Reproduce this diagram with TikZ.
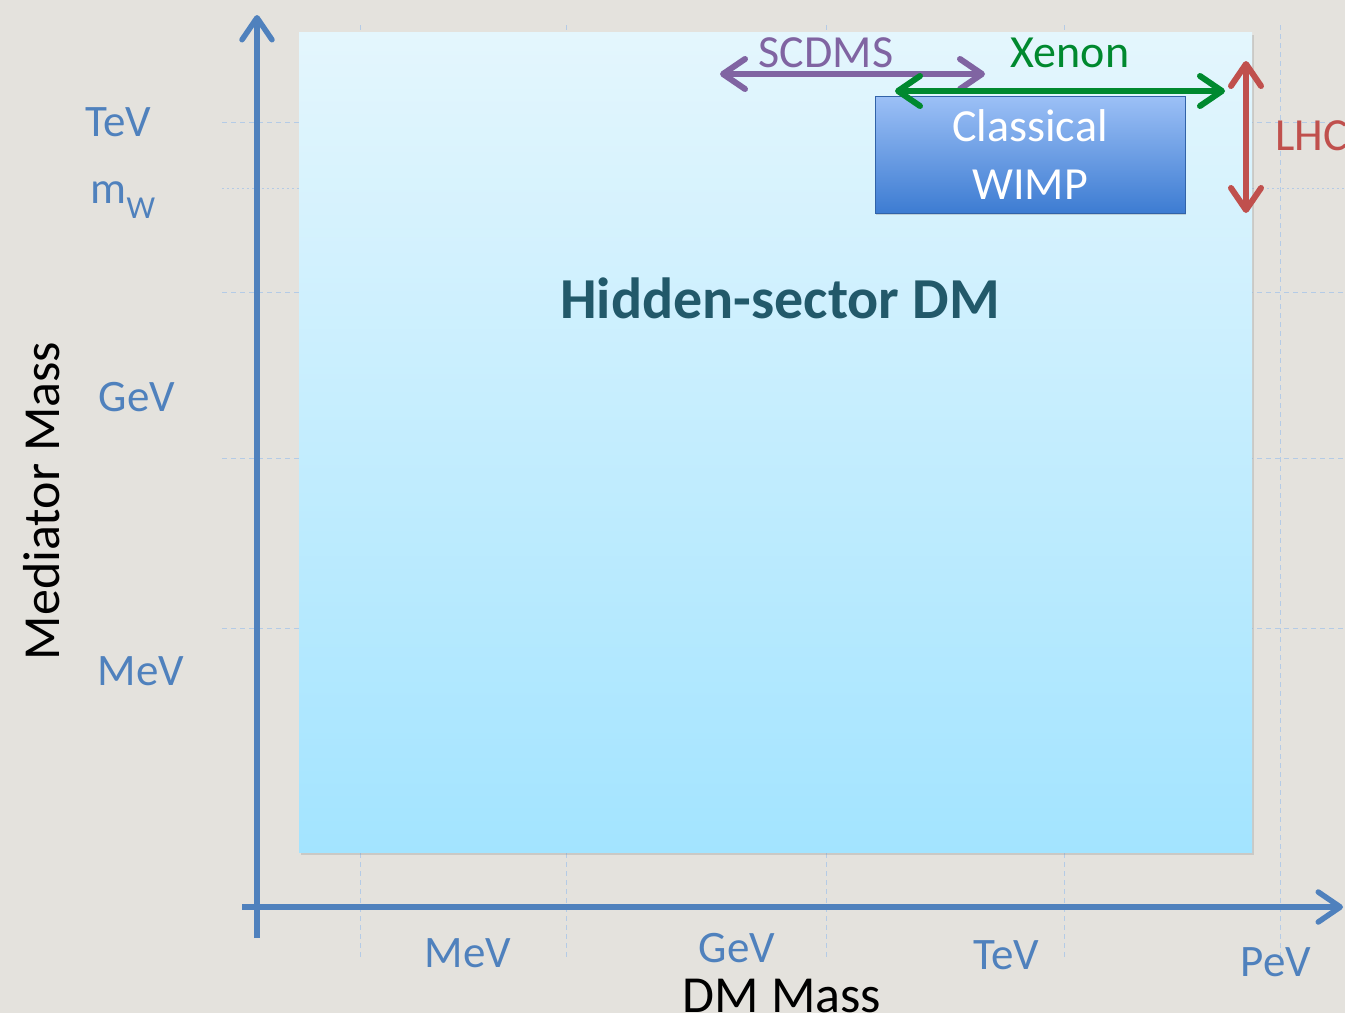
\documentclass[tikz,border=0pt]{standalone}
\usepackage{fontspec}
\setmainfont{Carlito}
\usetikzlibrary{arrows.meta,shadows}
\definecolor{paper}{HTML}{E4E2DD}
\definecolor{axisblue}{HTML}{4F81BD}
\definecolor{gridblue}{HTML}{B4CBE6}
\definecolor{sectortop}{HTML}{E4F6FD}
\definecolor{sectorbottom}{HTML}{A3E4FF}
\definecolor{wimptop}{HTML}{9CC0F6}
\definecolor{wimpbottom}{HTML}{3D7CD2}
\definecolor{headteal}{HTML}{22596A}
\definecolor{scdmspurple}{HTML}{8064A2}
\definecolor{xenongreen}{HTML}{00892F}
\definecolor{lhcred}{HTML}{C0504D}
\tikzset{
  barb/.tip={Straight Barb[length=22pt,width=30pt,line cap=round,line join=round]},
  grid line/.style={draw=gridblue,line width=1pt,dash pattern=on 5pt off 4pt},
  axis/.style={draw=axisblue,line width=5.5pt,-barb},
  rangearrow/.style={line width=6pt,barb-barb},
  tick label/.style={text=axisblue,font=\fontsize{45}{50}\selectfont,inner sep=0pt},
  axis title/.style={font=\fontsize{52}{58}\selectfont,inner sep=0pt},
  exp label/.style={font=\fontsize{46}{52}\selectfont,inner sep=0pt},
  sector/.style={top color=sectortop,bottom color=sectorbottom,minimum width=953pt,minimum height=820pt,
    drop shadow={opacity=0.25,shadow xshift=2pt,shadow yshift=-3pt}},
  wimpbox/.style={draw=wimpbottom!80!black,line width=1pt,top color=wimptop,bottom color=wimpbottom,
    minimum width=310pt,minimum height=117pt,text=white,align=center,
    font=\fontsize{46}{58}\selectfont,drop shadow={opacity=0.3,shadow xshift=1pt,shadow yshift=-2pt}}
}
\begin{document}
\begin{tikzpicture}[x=1pt,y=-1pt]
\fill[paper] (0,0) rectangle (1345,1013);
\useasboundingbox (0,0) rectangle (1345,1013);
\clip (0,0) rectangle (1345,1013);
\foreach \y in {122,292,458,628}
  \draw[grid line] (222,\y) -- (1345,\y);
\draw[grid line,dash pattern=on 2pt off 3pt] (222,188) -- (1345,188);
\foreach \x in {360,566,826,1064,1280}
  \draw[grid line] (\x,25) -- (\x,958);

\node[sector] (dmsector) at (775.5,442) {};
\node[text=headteal,font=\bfseries\fontsize{58}{64}\selectfont] (hidden) at (780,298) {Hidden-sector DM};
\node[wimpbox] (wimp) at (1030,154.5) {Classical\\WIMP};

\coordinate (ybottom) at (257,938);
\coordinate (ytop) at (257,15);
\coordinate (xleft) at (242,907);
\coordinate (xright) at (1343,907);
\draw[axis] (ybottom) -- (ytop);
\draw[axis] (xleft) -- (xright);

\node[tick label] (yTeV) at (118,122) {TeV};
\node[tick label] (ymW) at (123,200) {m\raisebox{-0.35em}{\fontsize{32}{36}\selectfont W}};
\node[tick label] (yGeV) at (137,397) {GeV};
\node[tick label] (yMeV) at (141,671) {MeV};
\node[tick label] (xMeV) at (468,953) {MeV};
\node[tick label] (xGeV) at (737,948) {GeV};
\node[tick label] (xTeV) at (1006,955) {TeV};
\node[tick label] (xPeV) at (1276,962) {PeV};
\node[axis title,rotate=90] (ytitle) at (42,501) {Mediator Mass};
\node[axis title] (xtitle) at (782,996) {DM Mass};

\coordinate (scdms west) at (720,74);
\coordinate (scdms east) at (985,74);
\coordinate (xenon west) at (895,91);
\coordinate (xenon east) at (1225,91);
\coordinate (lhc top) at (1246,61);
\coordinate (lhc bottom) at (1246,213);
\draw[rangearrow,scdmspurple] (scdms west) -- (scdms east);
\draw[rangearrow,xenongreen] (xenon west) -- (xenon east);
\draw[rangearrow,lhcred] (lhc top) -- (lhc bottom);
\node[exp label,text=scdmspurple] (scdms) at (826,53) {SCDMS};
\node[exp label,text=xenongreen] (xenon) at (1070,53) {Xenon};
\node[exp label,text=lhcred,anchor=west] (lhc) at (1275,136) {LHC};
\end{tikzpicture}
\end{document}
